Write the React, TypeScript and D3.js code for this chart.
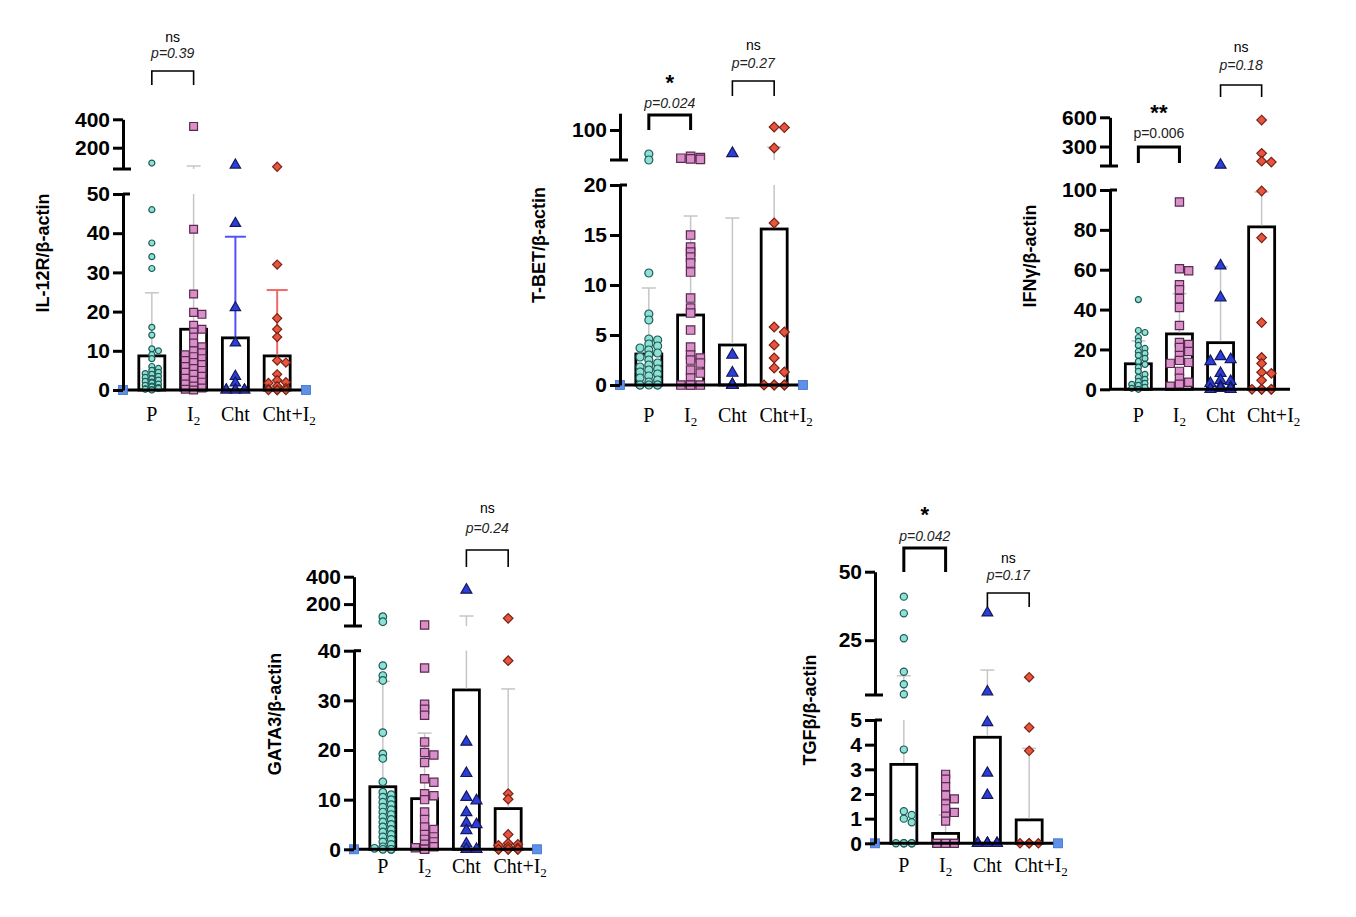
import React, { useEffect, useRef } from "react";
import * as d3 from "d3";

const groups = ["P", "I2", "Cht", "Cht+I2"];

// IL-12R/β-actin
const il12rP = [92, 46, 37.5, 34, 31, 16, 14, 10.5, 10, 9, 8, 6, 5.5, 5, 4.5, 4.2, 4, 3.5, 3.2, 3, 2.8, 2.5, 2.2, 2, 1.8, 1.5, 1.2, 1, 0.8, 0.6, 0.4, 0.3, 0.2, 0.1, 0];
const il12rI2 = [350, 41, 24.5, 19.8, 19.3, 16.5, 15.5, 14.8, 13.5, 12, 11, 10, 9.5, 9, 8.5, 8, 7.5, 7, 6.5, 6, 5.5, 5, 4.5, 4, 3.5, 3, 2.5, 2, 1.5, 1, 0.5, 0.2, 0];
const il12rCht = [78, 42.5, 21, 12, 3.5, 1.8, 0, 0, 0, 0, 0, 0];
const il12rChtI2 = [66, 32, 18.3, 15.5, 13.5, 7.5, 7, 4, 2.5, 2, 1.8, 1, 0.5, 0.3, 0, 0, 0, 0];
const il12rMean = [8.7, 15.5, 13.3, 8.7];
const il12rSd = [16.1, 55.5, 25.8, 16.8];
const il12rTicks = [0, 10, 20, 30, 40, 50];
const il12rUpperTicks = [200, 400];

// T-BET/β-actin
const tbetP = [60, 50, 11.2, 7.1, 6.5, 4.6, 4.5, 4.1, 3.9, 3.7, 3.5, 3.2, 3, 2.8, 2.5, 2.2, 2, 1.8, 1.6, 1.5, 1.3, 1.1, 0.9, 0.7, 0.5, 0.3, 0, 0, 0, 0, 0];
const tbetI2 = [56, 54, 53, 52, 51, 15, 13.8, 13.3, 12.8, 12.2, 11.3, 8.7, 7.7, 7.2, 5.5, 3.8, 3.0, 2.7, 2.5, 2.2, 1.5, 1.2, 0.7, 0, 0, 0, 0];
const tbetCht = [61, 3, 1.2, 0, 0, 0, 0, 0];
const tbetChtI2 = [105, 104, 70, 16.2, 5.8, 5.3, 4, 2.7, 1.7, 1.3, 0, 0, 0, 0, 0];
const tbetMean = [3.1, 7.0, 4.0, 15.6];
const tbetSd = [6.6, 9.9, 12.7, 56];
const tbetTicks = [0, 5, 10, 15, 20];
const tbetUpperTicks = [100];

// IFNγ/β-actin
const ifngP = [45, 29.5, 28.5, 26, 24, 22, 20.5, 19, 18, 17, 15.5, 14, 12.5, 11, 9, 7.5, 6, 5, 4, 3, 2.5, 2, 1, 0.5, 0];
const ifngI2 = [94, 60.5, 59.5, 52.5, 50, 45.5, 41, 32, 23.5, 22.5, 21, 19, 17, 14.5, 13.5, 13, 9, 5.5, 3.5, 2.5, 1.5];
const ifngCht = [110, 62, 46, 16.5, 15, 14, 8, 4.5, 4, 3, 1.5, 1, 0.5, 0, 0];
const ifngChtI2 = [572, 230, 150, 140, 99.5, 76, 33.5, 16, 13, 8.5, 8, 4.5, 0, 0, 0, 0, 0];
const ifngMean = [12.8, 27.8, 23.4, 81.5];
const ifngSd = [11.5, 20.2, 38.1, 17.5];
const ifngTicks = [0, 20, 40, 60, 80, 100];
const ifngUpperTicks = [300, 600];

// GATA3/β-actin
const gata3P = [108, 71, 37, 35, 34, 23.5, 19.2, 18.3, 13.6, 11.5, 11, 10.5, 10, 9.5, 9, 8.5, 8, 7.5, 7, 6.5, 6, 5.5, 5, 4.5, 4, 3.5, 3, 2.5, 2, 1.5, 1, 0.5, 0.2, 0, 0, 0];
const gata3I2 = [47, 36.5, 29.2, 28.2, 27, 21.6, 19.5, 19, 17.5, 14.2, 13.5, 11.2, 10.8, 10, 7.5, 6, 4.5, 4, 3, 2.5, 2, 1.5, 1, 0.5, 0.3, 0, 0];
const gata3Cht = [303, 21.6, 15.3, 10.5, 9.8, 7.4, 5.3, 5, 3.8, 1.1, 0, 0];
const gata3ChtI2 = [96, 38, 11.2, 10.1, 3, 1.2, 1, 0.8, 0.5, 0.3, 0, 0, 0, 0, 0, 0];
const gata3Mean = [12.6, 10.2, 32.1, 8.2];
const gata3Sd = [21.2, 13.2, 80.9, 24.1];
const gata3Ticks = [0, 10, 20, 30, 40];
const gata3UpperTicks = [200, 400];

// TGFβ/β-actin
const tgfbP = [40.9, 34.8, 25.7, 13.5, 8.9, 5.3, 3.8, 1.3, 1.15, 1.0, 0.85, 0, 0, 0, 0, 0];
const tgfbI2 = [2.8, 2.6, 2.3, 1.95, 1.8, 1.6, 1.4, 1.25, 1.1, 0.9, 0, 0, 0, 0, 0, 0];
const tgfbCht = [35, 6.2, 4.9, 2.85, 1.95, 0, 0, 0, 0, 0, 0, 0];
const tgfbChtI2 = [11.5, 4.7, 3.75, 0, 0, 0, 0];
const tgfbMean = [3.2, 0.4, 4.3, 0.95];
const tgfbSd = [8.8, 0.75, 9.8, 2.9];
const tgfbTicks = [0, 1, 2, 3, 4, 5];
const tgfbUpperTicks = [25, 50];

// significance tests (group indexes)
interface Test { from: number; to: number; mark: string; p: string; italic: boolean }
const il12rTests: Test[] = [{ from: 0, to: 1, mark: "ns", p: "p=0.39", italic: true }];
const tbetTests: Test[] = [
  { from: 0, to: 1, mark: "*", p: "p=0.024", italic: true },
  { from: 2, to: 3, mark: "ns", p: "p=0.27", italic: true },
];
const ifngTests: Test[] = [
  { from: 0, to: 1, mark: "**", p: "p=0.006", italic: false },
  { from: 2, to: 3, mark: "ns", p: "p=0.18", italic: true },
];
const gata3Tests: Test[] = [{ from: 2, to: 3, mark: "ns", p: "p=0.24", italic: true }];
const tgfbTests: Test[] = [
  { from: 0, to: 1, mark: "*", p: "p=0.042", italic: true },
  { from: 2, to: 3, mark: "ns", p: "p=0.17", italic: true },
];

const gray = "#c6c6c6";
const fills = ["#8fe1d5", "#d98fc8", "#2b3fd8", "#e8553f"];
const strokes = ["#1f5c58", "#5a2a50", "#16185e", "#7a2216"];

interface Panel {
  title: string;
  titleX: number;
  titleY: number;
  x0: number;
  x1: number;
  lowDomain: [number, number];
  lowRange: [number, number];
  upDomain: [number, number];
  upRange: [number, number];
  ticks: number[];
  upTicks: number[];
  labelY: number;
  values: number[][];
  means: number[];
  sds: number[];
  errColors: string[];
  r: number;
  k: number;
  ends: boolean;
  tests: Test[];
  brackets: { top: number; leg: number; markY: number; pY: number }[];
}

const panels: Panel[] = [
  {
    title: "IL-12R/β-actin", titleX: 43, titleY: 253,
    x0: 123, x1: 306,
    lowDomain: [0, 50], lowRange: [390, 194],
    upDomain: [50, 400], upRange: [169, 119.3],
    ticks: il12rTicks, upTicks: il12rUpperTicks, labelY: 421,
    values: [il12rP, il12rI2, il12rCht, il12rChtI2],
    means: il12rMean, sds: il12rSd,
    errColors: [gray, gray, "#5252f5", "#ee6a6a"],
    r: 3, k: 0.9, ends: true,
    tests: il12rTests,
    brackets: [{ top: 71, leg: 85, markY: 42, pY: 58 }],
  },
  {
    title: "T-BET/β-actin", titleX: 539, titleY: 245,
    x0: 620, x1: 803,
    lowDomain: [0, 20], lowRange: [385, 185],
    upDomain: [50, 128], upRange: [160, 113.2],
    ticks: tbetTicks, upTicks: tbetUpperTicks, labelY: 422,
    values: [tbetP, tbetI2, tbetCht, tbetChtI2],
    means: tbetMean, sds: tbetSd,
    errColors: [gray, gray, gray, gray],
    r: 4, k: 1.05, ends: true,
    tests: tbetTests,
    brackets: [
      { top: 115, leg: 130, markY: 90, pY: 108 },
      { top: 81, leg: 96, markY: 50, pY: 68 },
    ],
  },
  {
    title: "IFNγ/β-actin", titleX: 1030, titleY: 256,
    x0: 1110, x1: 1290,
    lowDomain: [0, 100], lowRange: [389.3, 190],
    upDomain: [100, 600], upRange: [166, 117.3],
    ticks: ifngTicks, upTicks: ifngUpperTicks, labelY: 422,
    values: [ifngP, ifngI2, ifngCht, ifngChtI2],
    means: ifngMean, sds: ifngSd,
    errColors: [gray, gray, gray, gray],
    r: 3, k: 1, ends: false,
    tests: ifngTests,
    brackets: [
      { top: 147, leg: 163, markY: 120, pY: 138 },
      { top: 85, leg: 97, markY: 52, pY: 70 },
    ],
  },
  {
    title: "GATA3/β-actin", titleX: 275, titleY: 714,
    x0: 354, x1: 537,
    lowDomain: [0, 40], lowRange: [849.3, 650.7],
    upDomain: [40, 400], upRange: [626, 576.7],
    ticks: gata3Ticks, upTicks: gata3UpperTicks, labelY: 873,
    values: [gata3P, gata3I2, gata3Cht, gata3ChtI2],
    means: gata3Mean, sds: gata3Sd,
    errColors: [gray, gray, gray, gray],
    r: 3.8, k: 1, ends: true,
    tests: gata3Tests,
    brackets: [{ top: 550, leg: 567, markY: 513, pY: 533 }],
  },
  {
    title: "TGFβ/β-actin", titleX: 810, titleY: 710,
    x0: 875, x1: 1058,
    lowDomain: [0, 5], lowRange: [843.3, 720],
    upDomain: [5, 50], upRange: [695, 571.7],
    ticks: tgfbTicks, upTicks: tgfbUpperTicks, labelY: 872,
    values: [tgfbP, tgfbI2, tgfbCht, tgfbChtI2],
    means: tgfbMean, sds: tgfbSd,
    errColors: [gray, gray, gray, gray],
    r: 3.6, k: 0.95, ends: true,
    tests: tgfbTests,
    brackets: [
      { top: 548, leg: 572, markY: 522, pY: 541 },
      { top: 593, leg: 607, markY: 563, pY: 580 },
    ],
  },
];

// narrow beeswarm: points may overlap vertically, only near-equal values get pushed sideways
function swarm(vals: number[], yf: (v: number) => number, cx: number, r: number, half: number) {
  const placed: { x: number; y: number }[] = [];
  const step = r * 1.1;
  const offsets = [0];
  for (let i = 1; i * step <= half; i++) offsets.push(i * step, -i * step);
  [...vals].sort((a, b) => b - a).forEach((v) => {
    const y = yf(v);
    let best = 0;
    let bestHits = Infinity;
    for (const o of offsets) {
      const hits = placed.filter((q) => Math.abs(cx + o - q.x) < 1.7 * r && Math.abs(y - q.y) < 1.1 * r).length;
      if (hits === 0) { best = o; break; }
      if (hits < bestHits) { bestHits = hits; best = o; }
    }
    placed.push({ x: cx + best, y });
  });
  return placed;
}

const sans = "'Liberation Sans', Arial, Helvetica, sans-serif";
const serif = "'Liberation Serif', 'Times New Roman', serif";

const App: React.FC = () => {
  const svgRef = useRef<SVGSVGElement | null>(null);

  useEffect(() => {
    if (svgRef.current) drawChart();
  }, []);

  const drawPanel = (svg: d3.Selection<SVGSVGElement, unknown, null, undefined>, p: Panel) => {
    const g = svg.append("g");
    const x = d3.scalePoint<string>().domain(groups).range([p.x0, p.x1]).padding(0.69);
    const yLow = d3.scaleLinear().domain(p.lowDomain).range(p.lowRange);
    const yUp = d3.scaleLinear().domain(p.upDomain).range(p.upRange);
    const lowMax = p.lowDomain[1];
    const upMin = p.upDomain[0];
    const y = (v: number) => (v <= lowMax ? yLow(v) : yUp(Math.max(v, upMin)));
    const barW = 26;

    // bars
    groups.forEach((grp, i) => {
      const cx = x(grp)!;
      g.append("rect")
        .attr("x", cx - barW / 2)
        .attr("y", y(p.means[i]))
        .attr("width", barW)
        .attr("height", yLow(0) - y(p.means[i]))
        .attr("fill", "#fff")
        .attr("stroke", "#000")
        .attr("stroke-width", 2.8);
    });

    // error bars (mean + SD), broken across the axis gap
    groups.forEach((grp, i) => {
      const cx = x(grp)!;
      const top = p.means[i] + p.sds[i];
      const col = p.errColors[i];
      const w = col === gray ? 1.5 : 2;
      const capHalf = col === gray ? 7 : 10.5;
      g.append("line")
        .attr("x1", cx).attr("x2", cx)
        .attr("y1", y(p.means[i]) - 1.4)
        .attr("y2", yLow(Math.min(top, lowMax)))
        .attr("stroke", col).attr("stroke-width", w);
      if (top > lowMax) {
        g.append("line")
          .attr("x1", cx).attr("x2", cx)
          .attr("y1", yUp(upMin)).attr("y2", yUp(top))
          .attr("stroke", col).attr("stroke-width", w);
      }
      g.append("line")
        .attr("x1", cx - capHalf).attr("x2", cx + capHalf)
        .attr("y1", y(top)).attr("y2", y(top))
        .attr("stroke", col).attr("stroke-width", w);
    });

    // points
    const shapes = [d3.symbolCircle, d3.symbolSquare, d3.symbolTriangle, d3.symbolSquare];
    const sizes = [Math.PI * p.r * p.r, 68 * p.k, 52 * p.k, 46 * p.k];
    const radii = [p.r, 4.2 * p.k, 4.6 * p.k, 4.4 * p.k];
    groups.forEach((grp, i) => {
      const pts = swarm(p.values[i], y, x(grp)!, radii[i], 10.5);
      const sym = d3.symbol().type(shapes[i]).size(sizes[i]);
      g.append("g")
        .selectAll("path")
        .data(pts)
        .join("path")
        .attr("d", sym() as string)
        .attr("transform", (d) => `translate(${d.x},${d.y})${i === 3 ? " rotate(45)" : ""}`)
        .attr("fill", fills[i])
        .attr("stroke", strokes[i])
        .attr("stroke-width", 1.2);
    });

    // x axis
    g.append("line")
      .attr("x1", p.x0).attr("x2", p.x1)
      .attr("y1", yLow(0)).attr("y2", yLow(0))
      .attr("stroke", "#000").attr("stroke-width", 3);
    if (p.ends) {
      [p.x0, p.x1].forEach((ex) => {
        g.append("rect")
          .attr("x", ex - 4.5).attr("y", yLow(0) - 4.5)
          .attr("width", 9).attr("height", 9)
          .attr("fill", "#5e90e8").attr("stroke", "#3d6fd0").attr("stroke-width", 0.8);
      });
    }

    // y axis, lower and upper segments
    const styleAxis = (a: d3.Selection<SVGGElement, unknown, null, undefined>) => {
      a.attr("font-size", 21).attr("font-family", sans).attr("font-weight", "bold");
      a.selectAll("path, line").attr("stroke", "#000").attr("stroke-width", 3);
      a.selectAll("text").attr("fill", "#000");
    };
    const lowAxis = g.append("g")
      .attr("transform", `translate(${p.x0},0)`)
      .call(d3.axisLeft(yLow).tickValues(p.ticks).tickSize(10).tickSizeOuter(0).tickPadding(3).tickFormat(d3.format("d")));
    styleAxis(lowAxis);
    const upAxis = g.append("g")
      .attr("transform", `translate(${p.x0},0)`)
      .call(d3.axisLeft(yUp).tickValues(p.upTicks).tickSize(10).tickSizeOuter(0).tickPadding(3).tickFormat(d3.format("d")));
    styleAxis(upAxis);
    // break caps
    g.append("line")
      .attr("x1", p.x0).attr("x2", p.x0 + 7)
      .attr("y1", yLow(lowMax)).attr("y2", yLow(lowMax))
      .attr("stroke", "#000").attr("stroke-width", 3);
    g.append("line")
      .attr("x1", p.x0 - 10).attr("x2", p.x0 + 8)
      .attr("y1", yUp(upMin)).attr("y2", yUp(upMin))
      .attr("stroke", "#000").attr("stroke-width", 3);

    // y title
    g.append("text")
      .attr("transform", `translate(${p.titleX},${p.titleY}) rotate(-90)`)
      .attr("text-anchor", "middle")
      .attr("dominant-baseline", "central")
      .attr("font-family", sans)
      .attr("font-weight", "bold")
      .attr("font-size", 18)
      .text(p.title);

    // category labels (serif, with subscript 2)
    groups.forEach((grp, i) => {
      const t = g.append("text")
        .attr("x", x(grp)! + (i === 3 ? 12 : 0))
        .attr("y", p.labelY)
        .attr("text-anchor", "middle")
        .attr("font-family", serif)
        .attr("font-size", 20);
      const base = grp.endsWith("2") ? grp.slice(0, -1) : grp;
      t.append("tspan").text(base);
      if (grp.endsWith("2")) t.append("tspan").attr("dy", 4).attr("font-size", 13).text("2");
    });

    // significance brackets
    p.tests.forEach((c, k) => {
      const b = p.brackets[k];
      const xa = x(groups[c.from])!;
      const xb = x(groups[c.to])!;
      const sig = c.mark !== "ns";
      g.append("path")
        .attr("d", `M${xa},${b.leg}V${b.top}H${xb}V${b.leg}`)
        .attr("fill", "none")
        .attr("stroke", "#000")
        .attr("stroke-width", sig ? 3 : 1.6);
      g.append("text")
        .attr("x", (xa + xb) / 2)
        .attr("y", b.markY)
        .attr("text-anchor", "middle")
        .attr("font-family", sans)
        .attr("font-weight", sig ? "bold" : "normal")
        .attr("font-size", sig ? 22 : 14)
        .text(c.mark);
      g.append("text")
        .attr("x", (xa + xb) / 2)
        .attr("y", b.pY)
        .attr("text-anchor", "middle")
        .attr("font-family", sans)
        .attr("font-style", c.italic ? "italic" : "normal")
        .attr("font-size", 14)
        .attr("fill", "#222")
        .text(c.p);
    });
  };

  const drawChart = () => {
    const svg = d3.select(svgRef.current!);
    svg.selectAll("*").remove();
    svg.append("rect").attr("width", 1356).attr("height", 917).attr("fill", "#fff");
    panels.forEach((p) => drawPanel(svg, p));
  };

  return (
    <svg
      ref={svgRef}
      width={1356}
      height={917}
      style={{ position: "absolute", left: 0, top: 0, display: "block" }}
    ></svg>
  );
};

export default App;
